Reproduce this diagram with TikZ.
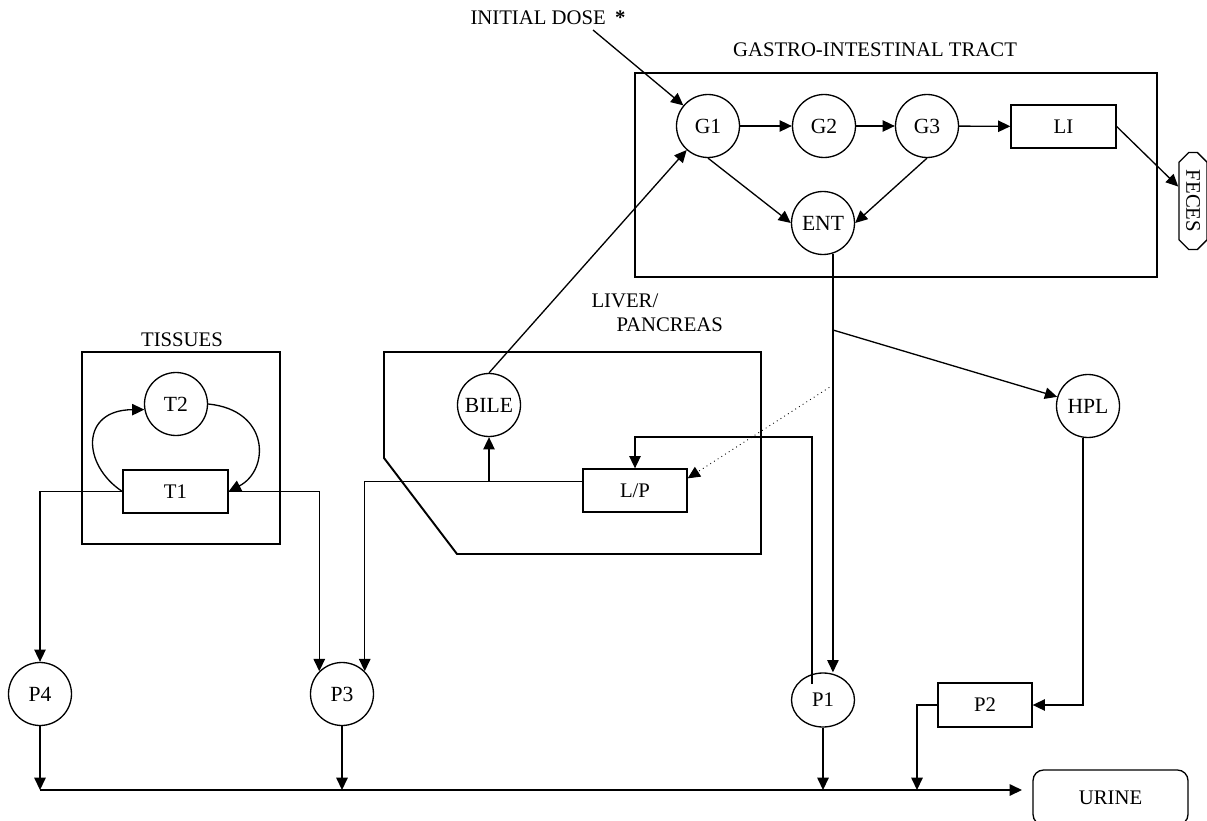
\documentclass[tikz,border=0pt]{standalone}
\usepackage{fontspec}
\setmainfont{Liberation Serif}
\usetikzlibrary{arrows.meta, shapes.misc, shapes.geometric, positioning}

\begin{document}
\begin{tikzpicture}[x=0.02cm, y=-0.02cm, line width=0.75pt,
		>={Triangle[length=7pt, width=6.5pt]},
		font=\fontsize{11.8}{14}\selectfont,
		comp/.style={draw, circle, minimum size=1.26cm, inner sep=0pt, font=\fontsize{12.3}{14}\selectfont},
		box/.style={draw, rectangle, inner sep=0pt, minimum width=2.1cm, minimum height=0.86cm}]
			\useasboundingbox (0, 0) rectangle (1207, 821);
			
			\draw (635, 73) rectangle (1157, 277);
			\draw (82, 352) rectangle (280, 544);
			\draw[line width=1.1pt] (384, 352) -- (761, 352) -- (761, 554) -- (457, 554) -- (384, 458) -- cycle;
			
			\node (dlabel) at (548, 18) {INITIAL DOSE\hspace{0.45em}\textbf{*}};
			\node (gilabel) at (875, 50) {GASTRO-INTESTINAL TRACT};
			\node (tlabel) at (182, 340) {TISSUES};
			\node[anchor=west] (llabel) at (585, 301) {LIVER/};
			\node[anchor=west] (plabel) at (610, 325) {PANCREAS};
			
			\node[comp] (g1) at (708, 126) {G1};
			\node[comp] (g2) at (824, 126) {G2};
			\node[comp] (g3) at (927, 126) {G3};
			\node[box] (li) at (1063.5, 126.5) {LI};
			\node[draw, chamfered rectangle, chamfered rectangle xsep=2.5pt, rotate=-90, inner sep=1pt,
				minimum width=1.94cm, minimum height=0.52cm] (feces) at (1193, 201) {FECES};
			\node[comp] (ent) at (823, 223) {ENT};
			\node[comp] (hpl) at (1088, 406) {HPL};
			\node[comp] (bile) at (489, 405) {BILE};
			\node[box, minimum width=2.08cm] (lp) at (635, 490.5) {L/P};
			\node[comp] (t2) at (176, 404) {T2};
			\node[box] (t1) at (175.5, 491.5) {T1};
			\node[comp] (p4) at (40, 694) {P4};
			\node[comp] (p3) at (342, 694) {P3};
			\node[draw, ellipse, inner sep=0pt, minimum width=1.26cm, minimum height=1.08cm] (p1) at (823, 700) {P1};
			\node[box, minimum width=1.88cm, minimum height=0.88cm] (p2) at (985, 705) {P2};
			\node[draw, rounded corners=6pt, minimum width=3.1cm, minimum height=1.1cm] (urine) at (1110.5, 797.5) {URINE};
			
			\coordinate (dtail) at (593, 30);
			\coordinate (split1) at (833, 330);
			\coordinate (split2) at (833, 385);
			\coordinate (p1in) at (812, 684);
			\coordinate (ustart) at (40, 790);
			\coordinate (uend) at (1022, 790);
			\coordinate (up2) at (917, 790);
			
			\draw[->] (dtail) -- (g1);
			\draw[->] (g1) -- (g2);
			\draw[->] (g2) -- (g3);
			\draw[->] (g3) -- (li);
			\draw[->] (li.east) -- (feces);
			\draw[->] (g1.south) -- (ent.west);
			\draw[->] (g3.south) -- (ent.east);
			\draw[->] (ent.-72) -- (ent.-72 |- p1.north);
			\draw[->] (split1) -- (hpl);
			\draw[->, dotted, line width=0.5pt] (split2) -- (lp.13);
			\draw[->] (hpl.-99) |- (p2.east);
			\draw[->] (p2.west) -| (up2);
			\draw[->] (p1in) -- (812, 437) -| (lp.north);
			\draw[->] (lp.170) -| (p3.45);
			\draw[->] (bile.south |- lp.170) -- (bile.south);
			\draw[->] (bile.north) -- (g1);
			\draw[->] (t1.west) -| (p4.north);
			\draw[->] (t1.east) -| (p3.135);
			\draw[->] (t1.west) .. controls (82, 465) and (80, 410) .. (t2.190);
			\draw[->] (t2.east) .. controls (270, 410) and (270, 470) .. (t1.east);
			
			\draw[->] (ustart) -- (uend);
			\draw[->] (p4.south) -- (p4.south |- ustart);
			\draw[->] (p3.south) -- (p3.south |- ustart);
			\draw[->] (p1.south) -- (p1.south |- ustart);
		\end{tikzpicture}
\end{document}
